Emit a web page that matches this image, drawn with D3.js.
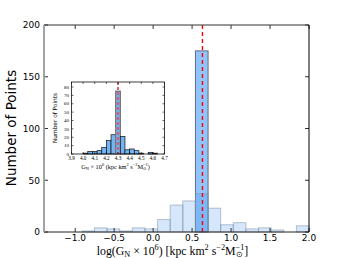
<!DOCTYPE html>
<html>
<head>
<meta charset="utf-8">
<script src="https://cdn.jsdelivr.net/npm/d3@7"></script>
<style>
  body { margin: 0; background: #fff; }
  svg { display: block; }
</style>
</head>
<body>
<svg id="chart" width="344" height="258"></svg>
<script>
// main histogram: log(G_N x 10^6), 21 bins between -1.4 and 2.0
const mainRange = [-1.4, 2.0];
const mainCounts = [0, 0, 0, 1, 4, 3, 1, 4, 3, 12, 26, 30, 37, 23, 7, 9, 3, 4, 2, 0, 6];
// narrow distribution, all in one bin
const peakBin = [0.543, 0.705];
const peakCount = 175;
const mainLineX = 0.633;
const mainXTicks = [-1.0, -0.5, 0.0, 0.5, 1.0, 1.5, 2.0];
const mainYTicks = [0, 50, 100, 150, 200];

// inset histogram: G_N x 10^6, bins of 0.04 starting at 4.00
const insetStart = 4.0;
const insetWidth = 0.04;
const insetCounts = [1, 3, 3, 4, 8, 16, 23, 75, 21, 5, 6, 4, 1, 0, 2, 1];
const insetLineX = 4.3;
const insetXTicks = [3.9, 4.0, 4.1, 4.2, 4.3, 4.4, 4.5, 4.6, 4.7];
const insetYTicks = [0, 10, 20, 30, 40, 50, 60, 70, 80];

const svg = d3.select("#chart");

// ---------- main axes ----------
const x = d3.scaleLinear().domain(mainRange).range([44, 309]);
const y = d3.scaleLinear().domain([0, 200]).range([232, 25]);

const nb = mainCounts.length;
const bw = (mainRange[1] - mainRange[0]) / nb;
const mainBins = mainCounts.map((c, i) => ({ x0: mainRange[0] + i * bw, x1: mainRange[0] + (i + 1) * bw, c }));

const g = svg.append("g");

// dark (narrow) bar first
g.append("rect")
  .attr("x", x(peakBin[0]))
  .attr("y", y(peakCount))
  .attr("width", x(peakBin[1]) - x(peakBin[0]))
  .attr("height", y(0) - y(peakCount))
  .attr("fill", "#90c4fa")
  .attr("stroke", "#5d6f80")
  .attr("stroke-width", 1);

// wide histogram on top, translucent
g.selectAll("rect.wide")
  .data(mainBins.filter(d => d.c > 0))
  .enter().append("rect")
  .attr("class", "wide")
  .attr("x", d => x(d.x0))
  .attr("y", d => y(d.c))
  .attr("width", d => x(d.x1) - x(d.x0))
  .attr("height", d => y(0) - y(d.c))
  .attr("fill", "#3388ee")
  .attr("fill-opacity", 0.2)
  .attr("stroke", "#7f93a8")
  .attr("stroke-opacity", 0.55)
  .attr("stroke-width", 1);

// median line
g.append("line")
  .attr("x1", x(mainLineX)).attr("x2", x(mainLineX))
  .attr("y1", y(200)).attr("y2", y(0))
  .attr("stroke", "#ff0000")
  .attr("stroke-width", 1.4)
  .attr("stroke-dasharray", "4,3");

// ticks (inward, all sides)
const tk = 4;
const ticksG = svg.append("g").attr("stroke", "#000").attr("stroke-width", 0.8);
mainXTicks.forEach(v => {
  ticksG.append("line").attr("x1", x(v)).attr("x2", x(v)).attr("y1", y(0)).attr("y2", y(0) - tk);
  ticksG.append("line").attr("x1", x(v)).attr("x2", x(v)).attr("y1", y(200)).attr("y2", y(200) + tk);
});
mainYTicks.forEach(v => {
  ticksG.append("line").attr("x1", x.range()[0]).attr("x2", x.range()[0] + tk).attr("y1", y(v)).attr("y2", y(v));
  ticksG.append("line").attr("x1", x.range()[1]).attr("x2", x.range()[1] - tk).attr("y1", y(v)).attr("y2", y(v));
});

// spines
svg.append("line").attr("x1", 44).attr("x2", 309).attr("y1", 25).attr("y2", 25).attr("stroke", "#333").attr("stroke-width", 1);
svg.append("line").attr("x1", 309).attr("x2", 309).attr("y1", 25).attr("y2", 232).attr("stroke", "#000").attr("stroke-width", 1);
svg.append("line").attr("x1", 44).attr("x2", 309).attr("y1", 232).attr("y2", 232).attr("stroke", "#222").attr("stroke-width", 1);
svg.append("line").attr("x1", 44).attr("x2", 44).attr("y1", 25).attr("y2", 232).attr("stroke", "#999").attr("stroke-width", 1.8);

const fmt1 = d3.format(".1f");
svg.append("g").selectAll("text")
  .data(mainXTicks).enter().append("text")
  .attr("x", d => x(d)).attr("y", 240.5)
  .attr("text-anchor", "middle")
  .attr("font-family", "DejaVu Sans").attr("font-size", 9)
  .text(d => fmt1(d));
svg.append("g").selectAll("text")
  .data(mainYTicks).enter().append("text")
  .attr("x", 40).attr("y", d => y(d) + 3.3)
  .attr("text-anchor", "end")
  .attr("font-family", "DejaVu Sans").attr("font-size", 9)
  .text(d => d);

svg.append("text")
  .attr("transform", "translate(16,128) rotate(-90)")
  .attr("text-anchor", "middle")
  .attr("font-family", "DejaVu Sans").attr("font-size", 13.5)
  .text("Number of Points");

// label with math-like sub/superscripts; levels are absolute baseline offsets
function textWidth(str, size) {
  const tmp = svg.append("text").attr("font-family", "Liberation Serif").attr("font-size", size).text(str);
  const w = tmp.node().getComputedTextLength();
  tmp.remove();
  return w;
}

function mathLabel(cx, base, size, parts) {
  const t = svg.append("text")
    .attr("font-family", "Liberation Serif")
    .attr("font-size", size)
    .attr("y", base);
  let cur = 0;
  parts.forEach(p => {
    const lvl = p.k === "sub" ? size * 0.25 : p.k === "sup" ? -size * 0.4 : 0;
    const s = t.append("tspan").text(p.t).attr("dy", lvl - cur);
    if (p.k) s.attr("font-size", size * 0.7);
    if (p.dx) s.attr("dx", p.dx);
    cur = lvl;
  });
  const w = t.node().getComputedTextLength();
  t.attr("x", cx - w / 2);
}

const ms = 11.8;
mathLabel(176, 254.5, ms, [
  { t: "log(G" }, { t: "N", k: "sub" }, { t: " × 10" },
  { t: "6", k: "sup" }, { t: ") [kpc km" },
  { t: "2", k: "sup" }, { t: " s" },
  { t: "−2", k: "sup" }, { t: "M" },
  { t: "\u2299", k: "sub" },
  { t: "−1", k: "sup", dx: -textWidth("\u2299", ms * 0.7) },
  { t: "]" }
]);

// ---------- inset ----------
const ix = d3.scaleLinear().domain([3.9, 4.7]).range([71.5, 164.5]);
const iy = d3.scaleLinear().domain([0, 86]).range([154, 82]);

svg.append("rect").attr("x", 71.5).attr("y", 82).attr("width", 93).attr("height", 72).attr("fill", "#fff");

const insetBins = insetCounts.map((c, i) => ({ x0: insetStart + i * insetWidth, x1: insetStart + (i + 1) * insetWidth, c }));
svg.append("g").selectAll("rect")
  .data(insetBins.filter(d => d.c > 0)).enter().append("rect")
  .attr("x", d => ix(d.x0))
  .attr("y", d => iy(d.c))
  .attr("width", d => ix(d.x1) - ix(d.x0))
  .attr("height", d => iy(0) - iy(d.c))
  .attr("fill", "#72b4f4")
  .attr("stroke", d => d.c > 50 ? "#777" : "#111")
  .attr("stroke-width", d => d.c > 50 ? 1.3 : 0.7);

svg.append("line")
  .attr("x1", ix(insetLineX)).attr("x2", ix(insetLineX))
  .attr("y1", 82).attr("y2", 154)
  .attr("stroke", "#e4506a")
  .attr("stroke-width", 1.8)
  .attr("stroke-dasharray", "3,2");

const itk = 2;
const iticks = svg.append("g").attr("stroke", "#000").attr("stroke-width", 0.6);
insetXTicks.forEach(v => {
  iticks.append("line").attr("x1", ix(v)).attr("x2", ix(v)).attr("y1", 154).attr("y2", 154 - itk);
  iticks.append("line").attr("x1", ix(v)).attr("x2", ix(v)).attr("y1", 82).attr("y2", 82 + itk);
});
insetYTicks.forEach(v => {
  iticks.append("line").attr("x1", 71.5).attr("x2", 71.5 + itk).attr("y1", iy(v)).attr("y2", iy(v));
  iticks.append("line").attr("x1", 164.5).attr("x2", 164.5 - itk).attr("y1", iy(v)).attr("y2", iy(v));
});
svg.append("rect").attr("x", 71.5).attr("y", 82).attr("width", 93).attr("height", 72)
  .attr("fill", "none").attr("stroke", "#111").attr("stroke-width", 0.8);

svg.append("g").selectAll("text")
  .data(insetXTicks).enter().append("text")
  .attr("x", d => ix(d)).attr("y", 159.8)
  .attr("text-anchor", "middle")
  .attr("font-family", "Liberation Serif").attr("font-size", 5.2)
  .text(d => d.toFixed(1));
svg.append("g").selectAll("text")
  .data(insetYTicks).enter().append("text")
  .attr("x", 69).attr("y", d => iy(d) + 1.7)
  .attr("text-anchor", "end")
  .attr("font-family", "Liberation Serif").attr("font-size", 5)
  .text(d => d);

svg.append("text")
  .attr("transform", "translate(57,118) rotate(-90)")
  .attr("text-anchor", "middle")
  .attr("font-family", "DejaVu Sans").attr("font-size", 5.8)
  .text("Number of Points");

const is = 6.3;
mathLabel(117, 168.5, is, [
  { t: "G" }, { t: "N", k: "sub" }, { t: " × 10" },
  { t: "6", k: "sup" }, { t: " (kpc km" },
  { t: "2", k: "sup" }, { t: " s" },
  { t: "−2", k: "sup" }, { t: "M" },
  { t: "\u2299", k: "sub" },
  { t: "−1", k: "sup", dx: -textWidth("\u2299", is * 0.7) },
  { t: ")" }
]);
</script>
</body>
</html>
